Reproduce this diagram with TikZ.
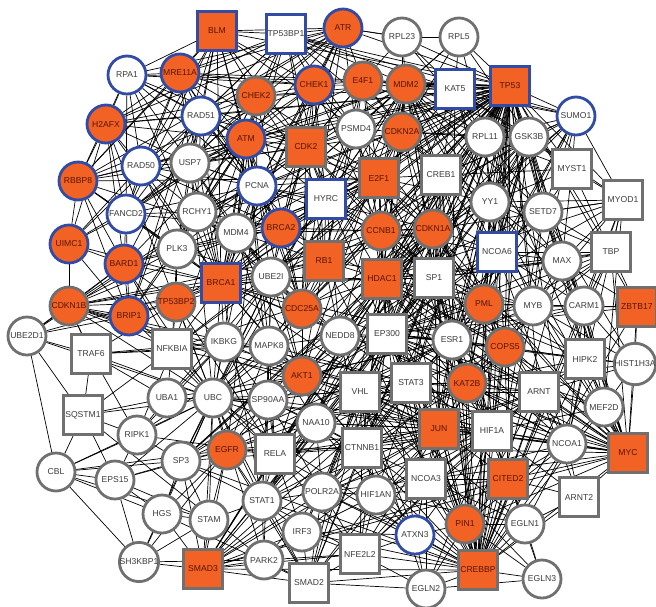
\documentclass[tikz,border=0pt]{standalone}
\usepackage{fontspec}
\newfontfamily\lblfont{Liberation Sans}
\definecolor{nodeorange}{RGB}{241,98,36}
\definecolor{rimblue}{RGB}{50,75,165}
\definecolor{rimgray}{RGB}{112,112,112}
\definecolor{txtdark}{RGB}{90,20,8}
\definecolor{txtgray}{RGB}{60,60,60}
\pgfdeclarelayer{edges}
\pgfsetlayers{edges,main}

\begin{document}
\begin{tikzpicture}[x=1pt,y=-1pt,
  nd/.style={draw=rimgray, line width=2.8pt, inner sep=0pt,
    font=\lblfont\fontsize{8.6pt}{9pt}\selectfont},
  rnd/.style={nd, circle, minimum size=38pt},
  sqr/.style={nd, rectangle, minimum size=39pt},
  wfill/.style={fill=white, text=txtgray},
  ofill/.style={fill=nodeorange, text=txtdark},
  bluerim/.style={draw=rimblue},
  rndW/.style={rnd, wfill},
  rndWB/.style={rnd, wfill, bluerim},
  rndO/.style={rnd, ofill},
  rndOB/.style={rnd, ofill, bluerim},
  sqW/.style={sqr, wfill},
  sqWB/.style={sqr, wfill, bluerim},
  sqO/.style={sqr, ofill},
  sqOB/.style={sqr, ofill, bluerim},
  link/.style={line width=0.7pt, black}
]
\useasboundingbox (0,0) rectangle (656,606);

% ---- proteins ----
\node[sqOB]  (BLM)      at (217,31)  {BLM};
\node[sqWB]  (TP53BP1)  at (286,34)  {TP53BP1};
\node[rndOB] (ATR)      at (343,28)  {ATR};
\node[rndW]  (RPL23)    at (402,37)  {RPL23};
\node[rndW]  (RPL5)     at (459,37)  {RPL5};
\node[rndWB] (RPA1)     at (127,75)  {RPA1};
\node[rndOB] (MRE11A)   at (180,73)  {MRE11A};
\node[rndO]  (CHEK2)    at (256,96)  {CHEK2};
\node[rndOB] (CHEK1)    at (314,85)  {CHEK1};
\node[rndO]  (E4F1)     at (363,81)  {E4F1};
\node[rndO]  (MDM2)     at (406,84)  {MDM2};
\node[sqWB]  (KAT5)     at (455,89)  {KAT5};
\node[sqOB]  (TP53)     at (510,86)  {TP53};
\node[rndWB] (SUMO1)    at (576,116) {SUMO1};
\node[rndOB] (H2AFX)    at (106,124) {H2AFX};
\node[rndWB] (RAD51)    at (201,116) {RAD51};
\node[rndOB] (ATM)      at (246,139) {ATM};
\node[sqO]   (CDK2)     at (306,147) {CDK2};
\node[rndW]  (PSMD4)    at (356,129) {PSMD4};
\node[rndO]  (CDKN2A)   at (402,132) {CDKN2A};
\node[rndW]  (RPL11)    at (485,137) {RPL11};
\node[rndW]  (GSK3B)    at (529,137) {GSK3B};
\node[rndWB] (RAD50)    at (141,166) {RAD50};
\node[rndW]  (USP7)     at (190,163) {USP7};
\node[rndWB] (PCNA)     at (257,186) {PCNA};
\node[sqWB]  (HYRC)     at (326,199) {HYRC};
\node[sqO]   (E2F1)     at (379,178) {E2F1};
\node[sqW]   (CREB1)    at (441,175) {CREB1};
\node[sqW]   (MYST1)    at (572,169) {MYST1};
\node[rndOB] (RBBP8)    at (78,181)  {RBBP8};
\node[rndWB] (FANCD2)   at (126,214) {FANCD2};
\node[rndW]  (RCHY1)    at (197,212) {RCHY1};
\node[rndW]  (MDM4)     at (236,233) {MDM4};
\node[rndOB] (BRCA2)    at (281,228) {BRCA2};
\node[rndO]  (CCNB1)    at (381,231) {CCNB1};
\node[rndO]  (CDKN1A)   at (433,229) {CDKN1A};
\node[rndW]  (YY1)      at (490,202) {YY1};
\node[rndW]  (SETD7)    at (543,212) {SETD7};
\node[sqW]   (MYOD1)    at (623,200) {MYOD1};
\node[rndOB] (UIMC1)    at (69,244)  {UIMC1};
\node[rndW]  (PLK3)     at (177,249) {PLK3};
\node[rndW]  (UBE2I)    at (271,277) {UBE2I};
\node[sqO]   (RB1)      at (324,261) {RB1};
\node[sqO]   (HDAC1)    at (382,279) {HDAC1};
\node[sqW]   (SP1)      at (434,278) {SP1};
\node[sqWB]  (NCOA6)    at (497,252) {NCOA6};
\node[rndW]  (MAX)      at (562,261) {MAX};
\node[sqW]   (TBP)      at (611,252) {TBP};
\node[rndOB] (BARD1)    at (124,264) {BARD1};
\node[sqOB]  (BRCA1)    at (221,283) {BRCA1};
\node[rndO]  (CDC25A)   at (302,309) {CDC25A};
\node[rndO]  (PML)      at (484,304) {PML};
\node[rndW]  (MYB)      at (533,306) {MYB};
\node[rndW]  (CARM1)    at (584,306) {CARM1};
\node[sqO]   (ZBTB17)   at (637,307) {ZBTB17};
\node[rndO]  (CDKN1B)   at (69,306)  {CDKN1B};
\node[rndO]  (TP53BP2)  at (176,302) {TP53BP2};
\node[rndOB] (BRIP1)    at (129,316) {BRIP1};
\node[rndW]  (UBE2D1)   at (27,336)  {UBE2D1};
\node[sqW]   (TRAF6)    at (91,354)  {TRAF6};
\node[sqW]   (NFKBIA)   at (172,349) {NFKBIA};
\node[rndW]  (IKBKG)    at (224,342) {IKBKG};
\node[rndW]  (MAPK8)    at (269,346) {MAPK8};
\node[rndW]  (NEDD8)    at (340,336) {NEDD8};
\node[sqW]   (EP300)    at (387,334) {EP300};
\node[rndW]  (ESR1)     at (452,340) {ESR1};
\node[rndO]  (COPS5)    at (505,347) {COPS5};
\node[sqW]   (HIPK2)    at (585,359) {HIPK2};
\node[rndW]  (HIST1H3A) at (635,364) {HIST1H3A};
\node[rndO]  (AKT1)     at (302,376) {AKT1};
\node[sqW]   (STAT3)    at (411,383) {STAT3};
\node[sqW]   (VHL)      at (360,392) {VHL};
\node[rndO]  (KAT2B)    at (467,383) {KAT2B};
\node[sqW]   (ARNT)     at (539,392) {ARNT};
\node[rndW]  (MEF2D)    at (604,407) {MEF2D};
\node[sqW]   (SQSTM1)   at (83,415)  {SQSTM1};
\node[rndW]  (UBA1)     at (167,398) {UBA1};
\node[rndW]  (UBC)      at (213,398) {UBC};
\node[rndW]  (SP90AA)   at (268,400) {SP90AA};
\node[rndW]  (NAA10)    at (316,423) {NAA10};
\node[rndW]  (RIPK1)    at (137,435) {RIPK1};
\node[sqW]   (RELA)     at (275,454) {RELA};
\node[sqW]   (CTNNB1)   at (362,448) {CTNNB1};
\node[sqO]   (JUN)      at (439,429) {JUN};
\node[sqW]   (HIF1A)    at (492,431) {HIF1A};
\node[rndW]  (NCOA1)    at (567,444) {NCOA1};
\node[sqO]   (MYC)      at (628,453) {MYC};
\node[rndW]  (CBL)      at (56,472)  {CBL};
\node[rndW]  (EPS15)    at (115,480) {EPS15};
\node[rndW]  (SP3)      at (181,461) {SP3};
\node[rndO]  (EGFR)     at (227,450) {EGFR};
\node[sqW]   (NCOA3)    at (426,479) {NCOA3};
\node[sqO]   (CITED2)   at (508,479) {CITED2};
\node[sqW]   (ARNT2)    at (579,497) {ARNT2};
\node[rndW]  (HGS)      at (162,514) {HGS};
\node[rndW]  (STAM)     at (209,520) {STAM};
\node[rndW]  (STAT1)    at (262,501) {STAT1};
\node[rndW]  (POLR2A)   at (322,492) {POLR2A};
\node[rndW]  (HIF1AN)   at (376,495) {HIF1AN};
\node[rndO]  (PIN1)     at (465,524) {PIN1};
\node[rndW]  (EGLN1)    at (525,524) {EGLN1};
\node[rndW]  (IRF3)     at (302,532) {IRF3};
\node[rndWB] (ATXN3)    at (415,535) {ATXN3};
\node[rndW]  (SH3KBP1)  at (139,562) {SH3KBP1};
\node[sqO]   (SMAD3)    at (203,569) {SMAD3};
\node[rndW]  (PARK2)    at (264,560) {PARK2};
\node[sqW]   (NFE2L2)   at (360,554) {NFE2L2};
\node[sqW]   (SMAD2)    at (309,583) {SMAD2};
\node[rndW]  (EGLN2)    at (426,589) {EGLN2};
\node[sqO]   (CREBBP)   at (478,570) {CREBBP};
\node[rndW]  (EGLN3)    at (542,579) {EGLN3};

% ---- interactions, drawn beneath the proteins ----
\begin{pgfonlayer}{edges}
\fill[white] (0,0) rectangle (656,606);
\foreach \a/\nbrs in {
 TP53/{BLM,TP53BP1,ATR,RPL23,RPL5,RPA1,MRE11A,CHEK2,CHEK1,E4F1,MDM2,KAT5,SUMO1,H2AFX,RAD51,ATM,CDK2,PSMD4,CDKN2A,RPL11,GSK3B,RAD50,USP7,PCNA,HYRC,E2F1,CREB1,MYST1,MDM4,BRCA2,CCNB1,CDKN1A,YY1,SETD7,PLK3,UBE2I,RB1,HDAC1,SP1,NCOA6,MAX,TBP,BRCA1,CDC25A,PML,MYB,CARM1,ZBTB17,TP53BP2,MAPK8,NEDD8,EP300,ESR1,COPS5,HIPK2,AKT1,STAT3,VHL,KAT2B,SP90AA,NAA10,RELA,CTNNB1,JUN,HIF1A,NCOA1,MYC,CITED2,POLR2A,HIF1AN,PIN1,SMAD3,SMAD2,CREBBP,RCHY1,MYOD1,ARNT,STAT1,NFKBIA,UBC},
 EP300/{CREBBP,HIF1A,ARNT,CITED2,NCOA1,NCOA3,NCOA6,JUN,MYC,CTNNB1,STAT3,STAT1,RELA,SMAD3,SMAD2,ESR1,MYOD1,MYB,CARM1,KAT2B,HDAC1,SP1,YY1,E2F1,RB1,BRCA1,CREB1,E4F1,NFE2L2,MEF2D,POLR2A,TBP,SETD7,HIPK2,PML,COPS5,CDKN1A,MDM2,SP3,IRF3,AKT1,HIST1H3A,ZBTB17,NEDD8,ATXN3,PIN1,MAX,GSK3B,CCNB1,CDK2},
 CREBBP/{HIF1A,ARNT,CITED2,NCOA1,NCOA3,NCOA6,JUN,MYC,CTNNB1,STAT3,STAT1,RELA,SMAD3,SMAD2,ESR1,MYOD1,MYB,CARM1,KAT2B,HDAC1,SP1,CREB1,E2F1,NFE2L2,POLR2A,TBP,HIPK2,IRF3,PIN1,EGLN1,EGLN3,EGLN2,ATXN3,HIF1AN,SP3,ARNT2,MEF2D,MDM2,PML,VHL,NAA10,RB1,SETD7,YY1,COPS5,CDKN1A,MAX,ZBTB17},
 BRCA1/{BARD1,BRIP1,RBBP8,UIMC1,FANCD2,H2AFX,RAD50,MRE11A,RAD51,BRCA2,ATM,ATR,CHEK2,CHEK1,BLM,PCNA,RPA1,CDK2,CCNB1,E2F1,RB1,HDAC1,ESR1,JUN,MYC,AKT1,UBE2D1,CDKN1B,TP53BP1,UBC,UBE2I,STAT1,CTNNB1,PLK3,TP53BP2,USP7,RCHY1,MDM4,HYRC,SP1,KAT2B,NFKBIA,IKBKG},
 ATM/{ATR,CHEK1,CHEK2,MDM2,H2AFX,MRE11A,RAD50,RBBP8,BLM,TP53BP1,RPA1,NFKBIA,IKBKG,RELA,E2F1,CDC25A,PCNA,RAD51,FANCD2,BRCA2,KAT5,MDM4,USP7,HYRC,RCHY1,PLK3,BARD1,UIMC1,BRIP1,AKT1,MAPK8,CDK2,E4F1},
 MDM2/{MDM4,RPL23,RPL5,RPL11,CDKN2A,USP7,CHEK2,AKT1,RB1,E2F1,HDAC1,PSMD4,YY1,GSK3B,SUMO1,UBE2D1,UBC,NEDD8,KAT5,PML,CDKN1A,CTNNB1,HIF1A,SP1,MYC,E4F1,RCHY1,TP53BP1,CCNB1,UBE2I,NCOA6,SETD7,MAX,CREB1,HYRC},
 CDKN1A/{CDK2,PCNA,CCNB1,E2F1,AKT1,GSK3B,MYC,SP1,SP3,STAT3,STAT1,HDAC1,JUN,ESR1,COPS5,UBC,CDC25A,RB1,KAT2B,CDKN2A,PSMD4,CDKN1B,MDM4,YY1,PML,NCOA6,HIF1A,RELA},
 HDAC1/{RB1,E2F1,SP1,SP3,YY1,MYOD1,ESR1,SUMO1,KAT2B,NCOA3,HIF1A,NFKBIA,RELA,MYB,MAX,MYC,CTNNB1,PML,SETD7,SMAD3,SMAD2,JUN,TBP,CREB1,CCNB1,BRCA2,UBE2I,NEDD8,STAT3,COPS5,MEF2D,HIPK2},
 JUN/{MAPK8,ESR1,NCOA1,NCOA3,SMAD3,SMAD2,STAT3,RELA,CTNNB1,SP1,MYC,ARNT,HIF1A,PIN1,EGFR,AKT1,GSK3B,NFE2L2,CITED2,COPS5,NAA10,STAT1,IRF3,HIF1AN,KAT2B,VHL,POLR2A},
 UBC/{SQSTM1,TRAF6,RIPK1,NFKBIA,IKBKG,UBA1,UBE2D1,UBE2I,CBL,EGFR,EPS15,HGS,STAM,SH3KBP1,PARK2,SMAD3,SMAD2,CTNNB1,HIF1A,NEDD8,ATXN3,MYC,PCNA,H2AFX,RELA,SP90AA,STAT1,AKT1,VHL,ESR1,USP7,CDKN1B,TP53BP2,MAPK8,SP3,BRIP1,BARD1},
 CBL/{UBE2D1,SQSTM1,EPS15,SH3KBP1,EGFR,HGS,STAM,RIPK1,SP3},
 SQSTM1/{TRAF6,RIPK1,NFKBIA,PARK2,EPS15,UBE2D1,UBA1},
 EPS15/{HGS,STAM,SH3KBP1,EGFR,SP3,RIPK1},
 HGS/{STAM,SH3KBP1,EGFR,SMAD3,SMAD2,SP3},
 SH3KBP1/{EGFR,STAM,SMAD3,PARK2},
 STAM/{EGFR,SMAD3,STAT1,SP3},
 UBE2D1/{TRAF6,CDKN1B,BARD1,BRIP1},
 TRAF6/{NFKBIA,IKBKG,RIPK1,MAPK8,CDKN1B,UBA1,TP53BP2},
 RIPK1/{IKBKG,NFKBIA,RELA,MAPK8,SP3,UBA1},
 SP3/{SP1,SUMO1,UBE2I,EGFR,RELA,STAT1,SMAD3,ESR1},
 EGFR/{STAT3,STAT1,SP90AA,AKT1,CTNNB1,SMAD3,ESR1,PCNA,RELA,NAA10,MAPK8,SMAD2},
 SMAD3/{SMAD2,CTNNB1,STAT3,PARK2,MYC,SP1,RELA,STAT1,IRF3,POLR2A,NFE2L2,CITED2},
 SMAD2/{PARK2,CTNNB1,NFE2L2,IRF3,POLR2A,STAT1,EGLN2,HIF1AN},
 PARK2/{SP90AA,STAT1,IRF3,NFE2L2,POLR2A},
 EGLN1/{HIF1A,EGLN3,PIN1,ARNT2,CITED2,HIF1AN,VHL,NCOA1,NCOA3},
 EGLN3/{HIF1A,EGLN2,VHL,PIN1},
 EGLN2/{HIF1A,NFE2L2,ATXN3,VHL,PIN1,NCOA3},
 ARNT2/{NCOA1,HIF1A,ARNT,MYC,CITED2},
 MYC/{MAX,NCOA1,HIF1A,ARNT,CITED2,ZBTB17,HIPK2,HIST1H3A,TBP,MYB,CARM1,SP1,GSK3B,KAT2B,PIN1,ESR1,NCOA3,STAT3,MEF2D,YY1,SETD7,COPS5,CTNNB1},
 NCOA1/{ARNT,HIF1A,CITED2,ESR1,NCOA3,CARM1,MEF2D,MYOD1,STAT3,PIN1,NCOA6,HIPK2,KAT2B},
 MEF2D/{HIST1H3A,MYOD1,CARM1,ARNT,HIPK2},
 HIST1H3A/{CARM1,ZBTB17,HIPK2,KAT2B,SETD7,ARNT,MYB},
 ZBTB17/{CARM1,TBP,MAX,HIPK2,MYB},
 TBP/{MAX,MYOD1,MYST1,SETD7,MYB,CARM1,YY1,SP1,POLR2A,ESR1,NCOA6},
 MYOD1/{MYST1,SETD7,MAX,CARM1,YY1,SUMO1,GSK3B,CDKN1A,MYB},
 MYST1/{SUMO1,GSK3B,SETD7,MAX,KAT5,CREB1,RPL11,YY1},
 SUMO1/{UBE2I,PML,GSK3B,KAT5,RPL11,YY1,SETD7,MYB,ESR1,CREB1,NCOA6,TP53BP1},
 SETD7/{YY1,ESR1,CARM1,GSK3B,MAX,MYB,NCOA6,RPL11},
 MAX/{CARM1,MYB,YY1,SP1,NCOA6,HIPK2},
 RPL23/{RPL5,RPL11,E4F1,ATR,CDKN2A,KAT5},
 RPL5/{RPL11,KAT5,CDKN2A,MDM4,GSK3B},
 RPA1/{MRE11A,RAD51,ATR,BLM,H2AFX,RAD50,PCNA,RBBP8,CHEK1,CDK2,FANCD2,USP7},
 MRE11A/{RAD50,BLM,ATR,RBBP8,H2AFX,TP53BP1,RAD51,CHEK2,CDK2,FANCD2,BRCA2,CHEK1,PCNA,USP7},
 H2AFX/{ATR,TP53BP1,UIMC1,RBBP8,BARD1,RAD51,CHEK2,RAD50,USP7,FANCD2},
 RBBP8/{RAD50,BARD1,BLM,ATR,CHEK1,E2F1,CDK2,RB1,UIMC1,BRIP1,FANCD2,PLK3},
 UIMC1/{BARD1,TP53BP1,RAD50,BRIP1,FANCD2,CDKN1B},
 BARD1/{BRIP1,FANCD2,RAD51,CDKN1B,BRCA2,PLK3,TP53BP2,NFKBIA},
 BRIP1/{RAD51,FANCD2,BLM,CDKN1B,TP53BP2,NFKBIA,PLK3},
 CDKN1B/{CDK2,AKT1,TRAF6,TP53BP2,E2F1,STAT3,JUN,MYC,RB1,NFKBIA,PLK3},
 TP53BP2/{NFKBIA,RELA,PLK3,IKBKG,UBE2I},
 FANCD2/{BRCA2,ATR,CHEK1,RAD51,BLM,RAD50,PCNA,USP7,PLK3,RCHY1},
 BLM/{TP53BP1,ATR,RAD51,RAD50,CHEK1,CHEK2,CDK2,PSMD4,USP7,PCNA},
 ATR/{CHEK1,CHEK2,TP53BP1,RAD51,CDK2,PCNA,BRCA2,E4F1,RPL23,CDC25A,PSMD4},
 TP53BP1/{CHEK2,CHEK1,E4F1,RAD51,CDK2,PSMD4,HYRC,USP7,CDKN2A,KAT5},
 CHEK1/{CHEK2,CDC25A,CDK2,E2F1,CCNB1,PCNA,PSMD4,HYRC,BRCA2,E4F1,RB1},
 CHEK2/{CDC25A,CDK2,E2F1,PCNA,RAD51,HYRC,PLK3,RCHY1,USP7,MDM4},
 E4F1/{CDKN2A,PSMD4,E2F1,CREB1,HYRC,RB1,KAT5,RPL11,CDK2},
 CDKN2A/{E2F1,RB1,CDK2,CCNB1,KAT5,RPL11,GSK3B,YY1,CREB1,PSMD4,HDAC1,SP1},
 KAT5/{RPL11,GSK3B,CREB1,YY1,NCOA6,ESR1,HDAC1,E2F1},
 RPL11/{GSK3B,CREB1,YY1,NCOA6,MYC},
 GSK3B/{CREB1,YY1,NCOA6,CTNNB1,AKT1,ESR1,PML,HIF1A,JUN,CCNB1,SETD7},
 CDK2/{CCNB1,E2F1,RB1,PCNA,CDC25A,HYRC,HDAC1,PSMD4,USP7,RAD51,BRCA2,E4F1,UBE2I,SP1},
 PSMD4/{CCNB1,E2F1,HYRC,RB1,CREB1,UBC,HDAC1},
 E2F1/{RB1,CCNB1,CREB1,HDAC1,SP1,YY1,HYRC,PCNA,CDC25A,KAT2B,MYC,RCHY1,NCOA6,UBE2I,MDM4,BRCA2},
 CREB1/{CCNB1,HDAC1,SP1,YY1,NCOA6,ESR1,JUN,CDKN1A,PML},
 YY1/{NCOA6,SP1,PML,HDAC1,CCNB1,ESR1,MYB,CARM1},
 PCNA/{CDC25A,CCNB1,RAD51,USP7,RCHY1,MDM4,BRCA2,HYRC,UBE2I,RB1,PLK3},
 HYRC/{BRCA2,RB1,CCNB1,MDM4,UBE2I,CDC25A,NEDD8,SP1},
 RAD51/{RAD50,USP7,BRCA2,PCNA,RCHY1,PLK3},
 RAD50/{USP7,PLK3,RCHY1,BRCA2,PCNA},
 USP7/{RCHY1,MDM4,PCNA,PLK3,UBE2I},
 RCHY1/{MDM4,PLK3,UBE2I,BRCA2,CDC25A},
 MDM4/{PLK3,UBE2I,BRCA2,CDC25A,MAPK8,AKT1,NEDD8},
 BRCA2/{RB1,UBE2I,CCNB1,CDC25A,PLK3},
 CCNB1/{RB1,HDAC1,CDC25A,SP1,NCOA6,PML,ESR1},
 RB1/{CDC25A,UBE2I,SP1,NEDD8,MAPK8,AKT1},
 SP1/{NCOA6,ESR1,PML,STAT3,KAT2B,COPS5,MYB,VHL,NEDD8,HIF1A,CTNNB1,STAT1,RELA},
 NCOA6/{PML,ESR1,MYB,COPS5,KAT2B,CARM1},
 PML/{ESR1,COPS5,MYB,KAT2B,HIPK2,CARM1,STAT3,ARNT,HIF1A},
 ESR1/{COPS5,KAT2B,STAT3,VHL,HIF1A,ARNT,NCOA3,CTNNB1,AKT1,NEDD8,MYB,CARM1},
 COPS5/{KAT2B,MYB,HIPK2,ARNT,HIF1A,STAT3,CITED2},
 KAT2B/{STAT3,ARNT,HIF1A,CITED2,NCOA3,MYB,HIPK2,CTNNB1,PIN1},
 HIPK2/{CARM1,MYB,ARNT},
 NEDD8/{AKT1,MAPK8,CDC25A,UBE2I,VHL,STAT3,NAA10,CTNNB1},
 AKT1/{MAPK8,CDC25A,UBE2I,IKBKG,NFKBIA,SP90AA,NAA10,VHL,RELA,CTNNB1,STAT3,HIF1A,UBA1},
 MAPK8/{IKBKG,NFKBIA,UBE2I,CDC25A,SP90AA,STAT3,RELA,NAA10,STAT1},
 IKBKG/{NFKBIA,UBE2I,SP90AA,UBA1,RELA},
 NFKBIA/{UBA1,RELA,UBE2I,PLK3},
 UBE2I/{CDC25A,SP90AA,UBA1,PLK3},
 SP90AA/{NAA10,RELA,UBA1,STAT3,CTNNB1,HIF1A,STAT1,POLR2A},
 NAA10/{RELA,CTNNB1,VHL,HIF1A,POLR2A,STAT1,HIF1AN},
 RELA/{STAT3,STAT1,CTNNB1,POLR2A,IRF3,HIF1A,NFE2L2},
 CTNNB1/{STAT3,HIF1A,VHL,POLR2A,HIF1AN,NCOA3,ARNT,STAT1,NFE2L2,ATXN3,PIN1},
 STAT3/{VHL,HIF1A,ARNT,NCOA3,STAT1,POLR2A,PIN1},
 VHL/{HIF1A,HIF1AN,NCOA3,ARNT,POLR2A,ATXN3,STAT1},
 HIF1A/{ARNT,NCOA3,CITED2,PIN1,HIF1AN,POLR2A,NFE2L2,ATXN3,MEF2D},
 ARNT/{NCOA3,CITED2,HIF1AN,NFE2L2,PIN1},
 NCOA3/{CITED2,PIN1,HIF1AN,ATXN3,POLR2A,NFE2L2},
 CITED2/{PIN1,HIF1AN},
 HIF1AN/{POLR2A,IRF3,ATXN3,NFE2L2},
 POLR2A/{IRF3,STAT1,NFE2L2,ATXN3},
 STAT1/{IRF3,NFE2L2},
 IRF3/{NFE2L2,ATXN3},
 ATXN3/{NFE2L2,PIN1}}
 {\foreach \b in \nbrs {\draw[link] (\a) -- (\b);}}
\end{pgfonlayer}
\end{tikzpicture}
\end{document}
